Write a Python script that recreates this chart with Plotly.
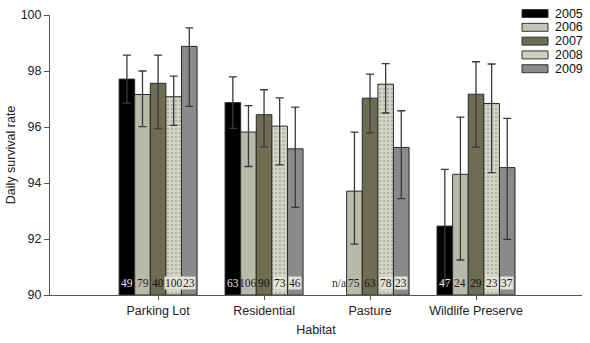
import plotly.graph_objects as go

habitats = ["Parking Lot", "Residential", "Pasture", "Wildlife Preserve"]
years = ["2005", "2006", "2007", "2008", "2009"]

# Daily survival rate (%) by year, one list per year, ordered by habitat
rate = {
    "2005": [97.71, 96.87, None, 92.46],
    "2006": [97.16, 95.82, 93.71, 94.31],
    "2007": [97.56, 96.44, 97.03, 97.17],
    "2008": [97.08, 96.03, 97.53, 96.84],
    "2009": [98.88, 95.22, 95.27, 94.55],
}
err_plus = {
    "2005": [0.86, 0.92, None, 2.03],
    "2006": [0.84, 0.94, 2.11, 2.04],
    "2007": [1.01, 0.89, 0.86, 1.16],
    "2008": [0.74, 1.01, 0.73, 1.41],
    "2009": [0.66, 1.49, 1.31, 1.76],
}
err_minus = {
    "2005": [0.86, 0.92, None, 2.03],
    "2006": [1.15, 1.23, 1.89, 3.06],
    "2007": [1.62, 1.15, 1.24, 1.89],
    "2008": [1.02, 1.38, 1.03, 2.47],
    "2009": [2.14, 2.09, 1.83, 2.56],
}
n_nests = {
    "2005": ["49", "63", "n/a", "47"],
    "2006": ["79", "106", "75", "24"],
    "2007": ["40", "90", "63", "29"],
    "2008": ["100", "73", "78", "23"],
    "2009": ["23", "46", "23", "37"],
}

colors = {"2005": "#000000", "2006": "#b9baa9", "2007": "#6d6d52",
          "2008": "#d6d6c8", "2009": "#8a8a8a"}
patterns = {
    "2005": None, "2006": None, "2007": None,
    "2008": dict(shape=".", fgcolor="#8f8f85", bgcolor="#d6d6c8", size=4, solidity=0.35),
    "2009": dict(shape=".", fgcolor="#7a7a7a", bgcolor="#8e8e8e", size=3, solidity=0.4),
}
label_colors = {"2005": "#e8e8e8", "2006": "#222222", "2007": "#111111",
                "2008": "#222222", "2009": "#222222"}
label_bg = {"2005": None, "2006": None, "2007": None,
            "2008": "#e4e4d8", "2009": "#e4e4d8"}

xpos = list(range(len(habitats)))
bargap = 0.264
nb = len(years)
bw = (1 - bargap) / nb

fig = go.Figure()
for j, yr in enumerate(years):
    kw = {}
    if patterns[yr]:
        kw["marker_pattern"] = patterns[yr]
    fig.add_trace(go.Bar(
        x=xpos, y=[(v - 90) if v is not None else None for v in rate[yr]],
        base=90, name=yr,
        marker=dict(color=colors[yr], line=dict(color="#2a2a2a", width=1)),
        error_y=dict(type="data", symmetric=False, array=err_plus[yr],
                     arrayminus=err_minus[yr], color="#3a3a3a",
                     thickness=1.3, width=4),
        showlegend=False, **kw))

# n labels at bar bottoms
annotations = []
for j, yr in enumerate(years):
    for i, lab in enumerate(n_nests[yr]):
        a = dict(x=xpos[i] + (j - (nb - 1) / 2) * bw, y=90.44, xref="x", yref="y",
                 text=lab, showarrow=False, yanchor="middle",
                 font=dict(family="Liberation Serif", size=11.5,
                           color=label_colors[yr] if lab != "n/a" else "#333333"),
                 borderpad=0)
        if label_bg[yr]:
            a["bgcolor"] = label_bg[yr]
        annotations.append(a)

# custom legend
L, R, T, B = 50, 582, 15, 297
def px(x):
    return (x - L) / (R - L)
def py(y):
    return (B - y) / (B - T)

shapes = []
legend_fill = {"2005": "#000000", "2006": "#c4c4b6", "2007": "#6d6d52",
               "2008": "#cfcfc2", "2009": "#8a8a8a"}
for k, yr in enumerate(years):
    cy = 13.5 + k * 13.9
    shapes.append(dict(type="rect", xref="paper", yref="paper",
                       x0=px(522), x1=px(548), y0=py(cy + 4), y1=py(cy - 4),
                       fillcolor=legend_fill[yr], line=dict(color="#333333", width=1)))
    annotations.append(dict(x=px(553), y=py(cy), xref="paper", yref="paper",
                            text=yr, showarrow=False, xanchor="left", yanchor="middle",
                            font=dict(family="Liberation Sans", size=12.5, color="#111111")))

fig.update_layout(
    width=590, height=343,
    margin=dict(l=L, r=590 - R, t=T, b=343 - B),
    plot_bgcolor="white", paper_bgcolor="white",
    barmode="group", bargap=bargap, bargroupgap=0,
    font=dict(family="Liberation Sans", size=12, color="#222222"),
    xaxis=dict(range=[-1.02, 4.0], tickmode="array", tickvals=xpos, ticktext=habitats,
               showline=True, linecolor="#555555", linewidth=1, ticks="outside",
               ticklen=4, tickcolor="#555555", showgrid=False, zeroline=False,
               title=dict(text="Habitat", font=dict(size=12.5), standoff=8),
               tickfont=dict(size=12.5)),
    yaxis=dict(range=[90, 100], dtick=2, tick0=90, showline=True, linecolor="#555555",
               linewidth=1, ticks="outside", ticklen=5, tickcolor="#555555",
               showgrid=False, zeroline=False,
               title=dict(text="Daily survival rate", font=dict(size=12.5), standoff=2),
               tickfont=dict(size=12.5)),
    annotations=annotations, shapes=shapes,
)

fig.write_html("out.html")
